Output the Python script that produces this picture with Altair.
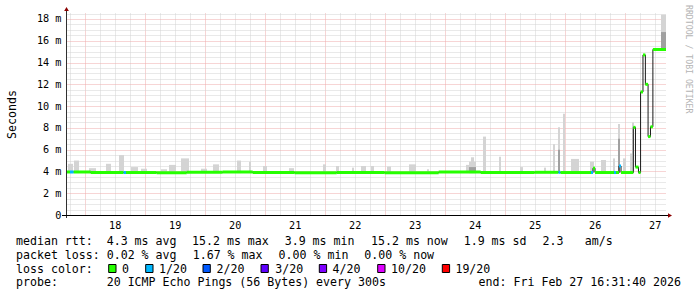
import altair as alt
import pandas as pd

# ---------------- data ----------------
T_START = 17.6887   # Feb 17 16:31:40 (day-of-month, fractional)
T_END = 27.6887     # Feb 27 16:31:40

# median rtt steps: start day, value (ms), loss bucket
med_day = [17.689, 17.755, 17.817, 18.10, 18.649, 18.689, 19.20, 19.70, 20.30,
           20.80, 21.50, 22.20, 23.00, 23.90, 24.60, 25.50, 25.897, 25.93,
           26.439, 26.472, 26.505, 26.822, 26.855, 26.905, 26.939, 27.144,
           27.180, 27.230, 27.265, 27.305, 27.345, 27.390, 27.430, 27.470]
med_ms = [3.95, 3.95, 3.95, 3.9, 3.9, 3.9, 3.88, 3.92, 3.95,
          3.9, 3.88, 3.9, 3.88, 3.95, 3.9, 3.92, 3.92, 3.9,
          3.9, 4.3, 3.9, 3.9, 3.9, 4.5, 3.9, 8.05,
          4.4, 3.9, 11.3, 14.7, 12.0, 7.2, 8.1, 15.2]
med_loss = ["0", "1/20", "0", "0", "1/20", "0", "0", "0", "0",
            "0", "0", "0", "0", "0", "0", "0", "1/20", "0",
            "1/20", "0", "0", "1/20", "0", "1/20", "0", "0",
            "0", "0", "0", "0", "0", "0", "0", "0"]

# smoke (ping spread) outer band
smoke_start = [17.722, 17.822, 18.072, 18.355, 18.572, 18.772, 18.939, 19.272, 19.405,
               19.605, 19.939, 20.139, 20.539, 20.739, 20.972, 21.405, 21.972, 22.189,
               22.455, 22.605, 22.772, 23.039, 23.405, 23.705, 24.355, 24.405, 24.439,
               24.639, 24.905, 25.255, 25.655, 25.805, 25.889, 25.972, 26.105, 26.422,
               26.605, 26.805, 26.889, 26.972, 27.089, 27.122, 27.605]
smoke_end = [17.805, 17.905, 18.189, 18.439, 18.655, 18.889, 19.039, 19.372, 19.522,
             19.739, 20.039, 20.239, 20.605, 20.772, 21.039, 21.489, 22.022, 22.239,
             22.489, 22.689, 22.822, 23.105, 23.522, 23.739, 24.405, 24.522, 24.489,
             24.689, 24.939, 25.305, 25.689, 25.839, 25.922, 26.005, 26.239, 26.489,
             26.689, 26.839, 26.922, 27.022, 27.122, 27.155, 27.689]
smoke_low = [3.85] * 42 + [15.2]
smoke_top = [4.7, 5.0, 4.3, 4.7, 5.5, 4.4, 4.25, 4.2, 4.6,
             5.2, 4.25, 4.65, 5.0, 4.9, 4.5, 4.3, 4.65, 4.5,
             4.35, 4.5, 4.5, 4.45, 4.65, 4.2, 4.6, 4.9, 5.3,
             7.2, 5.35, 4.4, 4.35, 6.5, 8.05, 9.3, 5.15, 4.9,
             5.05, 5.2, 8.35, 5.2, 5.65, 8.5, 18.4]

# darker inner smoke
inner_start = [24.405, 25.889, 26.889, 27.605]
inner_end = [24.522, 25.922, 26.922, 27.689]
inner_low = [3.85, 3.85, 3.85, 15.2]
inner_top = [4.4, 6.0, 7.0, 16.8]

loss_levels = ["0", "1/20", "2/20", "3/20", "4/20", "10/20", "19/20"]
loss_colors = ["#26ff00", "#00b8ff", "#0059ff", "#5e00ff", "#7e00ff", "#dd00ff", "#ff0000"]

y_label = "Seconds"
watermark = "RRDTOOL / TOBI OETIKER"
legend_lines = [
    [("median rtt:", 16), ("4.3 ms avg", 106.7), ("15.2 ms max", 192), ("3.9 ms min", 284.7),
     ("15.2 ms now", 371), ("1.9 ms sd", 463.7), ("2.3", 542.5), ("am/s", 584.7)],
    [("packet loss:", 16), ("0.02 % avg", 106.7), ("1.67 % max", 192.7),
     ("0.00 % min", 278.6), ("0.00 % now", 364.3)],
    [("loss color:", 16)],
    [("probe:", 16), ("20 ICMP Echo Pings (56 Bytes) every 300s", 106.7)],
]
end_text = "end: Fri Feb 27 16:31:40 2026"

# ---------------- layout ----------------
PAD_L, PAD_T, W, H = 66, 13, 600, 202
MONO = "DejaVu Sans Mono"
Y_MAX = 18.55

seg = pd.DataFrame({"d": med_day, "d2": med_day[1:] + [T_END], "ms": med_ms, "loss": med_loss})
line = pd.DataFrame({"d": med_day + [T_END], "ms": med_ms + [med_ms[-1]]})
smoke = pd.DataFrame({"d": smoke_start, "d2": smoke_end, "lo": smoke_low, "hi": smoke_top})
inner = pd.DataFrame({"d": inner_start, "d2": inner_end, "lo": inner_low, "hi": inner_top})

xscale = alt.Scale(domain=[T_START, T_END], nice=False, zero=False)
yscale = alt.Scale(domain=[0, Y_MAX], nice=False, zero=True)

x_vals = [17.75 + 0.25 * i for i in range(40)]
y_vals = [0.5 * i for i in range(38)]

xaxis = alt.Axis(
    values=x_vals, grid=True,
    gridColor={"condition": {"test": "datum.value % 1 == 0", "value": "#eeaaaa"}, "value": "#d2d2d2"},
    gridDash=[1, 1], gridWidth=1, ticks=False, domain=False,
    labelExpr="datum.value % 1 == 0.5 ? floor(datum.value) : ''",
    labelFont=MONO, labelFontSize=10.2, labelColor="#000000",
    labelBaseline="alphabetic", labelPadding=13, labelOverlap=False, labelFlush=False,
    title=None,
)
yaxis = alt.Axis(
    values=y_vals, grid=True,
    gridColor={"condition": {"test": "datum.value % 2 == 0", "value": "#eeaaaa"}, "value": "#d2d2d2"},
    gridDash=[1, 1], gridWidth=1, ticks=False, domain=False,
    labelExpr="datum.value == 0 ? '0\u00a0\u00a0' : (datum.value % 2 == 0 ? datum.value + ' m' : '')",
    labelFont=MONO, labelFontSize=10.2, labelColor="#000000", labelPadding=5,
    labelOverlap=False, labelFlush=False,
    title=y_label, titleFont=MONO, titleFontSize=11.6, titleFontWeight="normal",
    titleColor="#000000", titleAngle=270, titleAlign="center", titleBaseline="alphabetic",
    titleX=-51, titleY=H / 2,
)

X = lambda f: alt.X(f, type="quantitative", scale=xscale, axis=xaxis)
Y = lambda f: alt.Y(f, type="quantitative", scale=yscale, axis=yaxis)

smoke_layer = alt.Chart(smoke).mark_rect(color="#d4d4d4").encode(
    x=X("d"), x2="d2", y=Y("lo"), y2="hi")
inner_layer = alt.Chart(inner).mark_rect(color="#a0a0a0").encode(
    x=X("d"), x2="d2", y=Y("lo"), y2="hi")
black_line = alt.Chart(line).mark_line(interpolate="step-after", color="#1a1a1a", strokeWidth=1).encode(
    x=X("d"), y=Y("ms"))
color_rules = alt.Chart(seg).mark_rule(strokeWidth=3, strokeCap="butt").encode(
    x=X("d"), x2="d2", y=Y("ms"),
    color=alt.Color("loss:N", scale=alt.Scale(domain=loss_levels, range=loss_colors), legend=None))

one = pd.DataFrame({"k": [0]})
yaxis_line = alt.Chart(one).mark_rule(color="#303030", strokeWidth=1).encode(
    x=alt.value(0.5), y=alt.value(-3), y2=alt.value(H + 3))
xaxis_line = alt.Chart(one).mark_rule(color="#000000", strokeWidth=1).encode(
    x=alt.value(-4), x2=alt.value(W + 2), y=alt.value(H + 0.5))
arrow_up = alt.Chart(one).mark_point(shape="triangle-up", filled=True, size=22, color="#8b0000", opacity=1).encode(
    x=alt.value(0.5), y=alt.value(-4))
arrow_right = alt.Chart(one).mark_point(shape="triangle-right", filled=True, size=22, color="#8b0000", opacity=1).encode(
    x=alt.value(W + 4), y=alt.value(H + 0.5))

wm = alt.Chart(one).mark_text(text=watermark, font=MONO, fontSize=8.2, color="#b4b4b4",
                              angle=90, align="left", baseline="middle").encode(
    x=alt.value(688 - PAD_L), y=alt.value(5 - PAD_T))

# legend text tokens
baselines = [245.4, 259.0, 272.7, 286.3]
rows = []
for line_items, yb in zip(legend_lines, baselines):
    for txt, xp in line_items:
        rows.append({"t": txt, "px": xp - PAD_L, "py": yb - PAD_T})
label_x = [122, 159, 216.6, 275.3, 332.5, 391, 455.4]
for lab, xp in zip(loss_levels, label_x):
    rows.append({"t": lab, "px": xp - PAD_L, "py": baselines[2] - PAD_T})
leg = pd.DataFrame(rows)
leg_text = alt.Chart(leg).mark_text(font=MONO, fontSize=11.6, color="#000000",
                                    align="left", baseline="alphabetic").encode(
    x=alt.X("px:Q", scale=None), y=alt.Y("py:Q", scale=None), text="t:N")
end_layer = alt.Chart(one).mark_text(text=end_text, font=MONO, fontSize=11.6, color="#000000",
                                     align="right", baseline="alphabetic").encode(
    x=alt.value(681 - PAD_L), y=alt.value(baselines[3] - PAD_T))

box_x = [108.7, 145.7, 203, 261, 319.3, 377.7, 442.3]
boxes = pd.DataFrame({"lvl": loss_levels,
                      "x0": [b - PAD_L for b in box_x],
                      "x1": [b + 7.3 - PAD_L for b in box_x],
                      "y0": [264.5 - PAD_T] * 7,
                      "y1": [272.5 - PAD_T] * 7})
box_layer = alt.Chart(boxes).mark_rect(stroke="#000000", strokeWidth=1).encode(
    x=alt.X("x0:Q", scale=None), x2="x1", y=alt.Y("y0:Q", scale=None), y2="y1",
    fill=alt.Fill("lvl:N", scale=alt.Scale(domain=loss_levels, range=loss_colors), legend=None))

chart = alt.layer(
    smoke_layer, inner_layer, black_line, color_rules,
    yaxis_line, xaxis_line, arrow_up, arrow_right, wm, leg_text, end_layer, box_layer,
).resolve_scale(color="independent").properties(
    width=W, height=H,
    autosize=alt.AutoSizeParams(type="none"),
    padding={"left": PAD_L, "top": PAD_T, "right": 697 - PAD_L - W, "bottom": 297 - PAD_T - H},
    background="#ffffff",
).configure_view(stroke=None)

chart.save("out.html", embed_options={"renderer": "svg", "actions": False})
